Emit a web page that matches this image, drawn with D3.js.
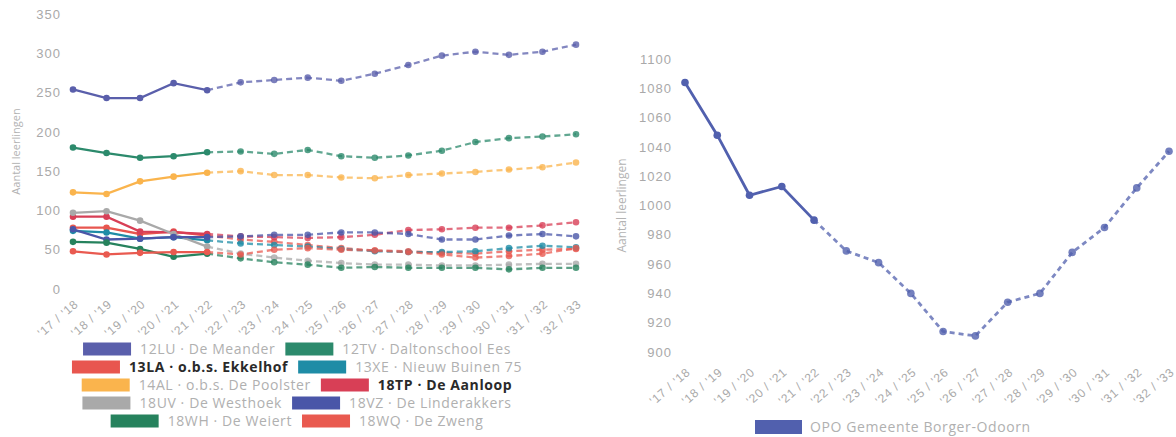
<!DOCTYPE html>
<html>
<head>
<meta charset="utf-8">
<script src="https://cdn.jsdelivr.net/npm/d3@7"></script>
<style>
  html, body { margin: 0; padding: 0; background: #fff; }
  svg { display: block; font-family: "Open Sans", "Noto Sans", sans-serif; }
  .tick text { fill: #a9a9a9; }
</style>
</head>
<body>
<svg id="chart" width="1176" height="437"></svg>
<script>
// School years on the x axis
const years = ["'17 / '18", "'18 / '19", "'19 / '20", "'20 / '21", "'21 / '22", "'22 / '23", "'23 / '24", "'24 / '25",
               "'25 / '26", "'26 / '27", "'27 / '28", "'28 / '29", "'29 / '30", "'30 / '31", "'31 / '32", "'32 / '33"];
// Index of the last counted year; later years are a forecast (dashed)
const lastActual = 4;

// Pupil counts per school
const s12LU = [254, 243, 243, 262, 253, 263, 266, 269, 265, 274, 285, 297, 302, 298, 302, 311];
const s12TV = [180, 173, 167, 169, 174, 175, 172, 177, 169, 167, 170, 176, 187, 192, 194, 197];
const s13LA = [78, 78, 70, 73, 68, 63, 60, 56, 52, 49, 48, 46, 45, 48, 50, 51];
const s13XE = [74, 72, 64, 66, 62, 58, 56, 54, 51, 48, 47, 47, 48, 52, 55, 53];
const s14AL = [123, 121, 137, 143, 148, 150, 145, 145, 142, 141, 145, 147, 149, 152, 155, 161];
const s18TP = [92, 92, 73, 72, 70, 67, 66, 65, 66, 69, 75, 76, 78, 78, 81, 85];
const s18UV = [97, 99, 87, 70, 54, 45, 40, 36, 33, 31, 31, 30, 30, 31, 32, 32];
const s18VZ = [76, 63, 64, 66, 66, 67, 69, 69, 72, 72, 70, 63, 63, 68, 70, 67];
const s18WH = [60, 59, 51, 41, 45, 39, 34, 31, 27, 28, 27, 27, 27, 25, 27, 27];
const s18WQ = [48, 44, 46, 47, 47, 44, 50, 52, 50, 49, 47, 44, 40, 42, 45, 52];

// Total for the municipality
const opoTotal = [1084, 1048, 1007, 1013, 990, 969, 961, 940, 914, 911, 934, 940, 968, 985, 1012, 1037];

const schoolNames = ["12LU · De Meander", "12TV · Daltonschool Ees", "13LA · o.b.s. Ekkelhof", "13XE · Nieuw Buinen 75",
                     "14AL · o.b.s. De Poolster", "18TP · De Aanloop", "18UV · De Westhoek", "18VZ · De Linderakkers",
                     "18WH · De Weiert", "18WQ · De Zweng"];
const schoolValues = [s12LU, s12TV, s13LA, s13XE, s14AL, s18TP, s18UV, s18VZ, s18WH, s18WQ];
const schoolColors = ["#5a5fab", "#2c8a6c", "#e8564f", "#1e8ca6", "#fab44d", "#d83f56", "#a9a9a9", "#4a56a8", "#26825d", "#e95a50"];
const highlighted = ["13LA · o.b.s. Ekkelhof", "18TP · De Aanloop"];

const leftTicks = [0, 50, 100, 150, 200, 250, 300, 350];
const rightTicks = [900, 920, 940, 960, 980, 1000, 1020, 1040, 1060, 1080, 1100];
const opoName = "OPO Gemeente Borger-Odoorn";
const opoColor = "#5160ae";

const svg = d3.select("#chart");

function drawPanel(g, cfg) {
  const x = d3.scalePoint().domain(years).range(cfg.xRange);
  const y = d3.scaleLinear().domain(cfg.yDomain).range(cfg.yRange);

  // y axis
  const ya = g.append("g").attr("transform", `translate(${cfg.yAxisX},0)`)
    .call(d3.axisLeft(y).tickValues(cfg.ticks).tickFormat(d3.format("d")).tickSize(0).tickPadding(0));
  ya.select(".domain").remove();
  ya.selectAll("text").style("font-size", "13px").style("letter-spacing", "1px");

  // x axis with slanted labels
  const xa = g.append("g").attr("transform", `translate(0,${cfg.xAxisY})`)
    .call(d3.axisBottom(x).tickSize(0).tickPadding(0));
  xa.select(".domain").remove();
  xa.selectAll("text")
    .style("font-size", "12px")
    .style("letter-spacing", "0.9px")
    .attr("text-anchor", "end")
    .attr("dy", "0.35em")
    .attr("y", 0)
    .attr("transform", `translate(3,4) rotate(-41)`);

  // axis title
  g.append("text")
    .attr("transform", `translate(${cfg.titleX},${(cfg.yRange[0] + cfg.yRange[1]) / 2}) rotate(-90)`)
    .attr("text-anchor", "middle")
    .attr("dy", "0.35em")
    .style("font-size", cfg.titleFont)
    .style("fill", "#b3b3b3")
    .text("Aantal leerlingen");

  const line = d3.line().x(d => x(years[d.i])).y(d => y(d.v));

  cfg.series.forEach(s => {
    const pts = s.values.map((v, i) => ({ i, v }));
    const actual = pts.slice(0, lastActual + 1);
    const forecast = pts.slice(lastActual);
    const sg = g.append("g");
    sg.append("path").datum(forecast).attr("d", line)
      .attr("fill", "none").attr("stroke", s.color).attr("stroke-opacity", 0.75)
      .attr("stroke-width", cfg.lw).attr("stroke-dasharray", cfg.dash);
    sg.append("path").datum(actual).attr("d", line)
      .attr("fill", "none").attr("stroke", s.color).attr("stroke-width", cfg.lw);
    sg.selectAll("circle").data(pts).join("circle")
      .attr("cx", d => x(years[d.i])).attr("cy", d => y(d.v))
      .attr("r", cfg.r).attr("fill", s.color)
      .attr("fill-opacity", d => d.i > lastActual ? 0.8 : 1);
  });
}

// Left panel: individual schools
const leftSeries = schoolNames.map((n, k) => ({ name: n, values: schoolValues[k], color: schoolColors[k] }));
drawPanel(svg.append("g"), {
  xRange: [73, 576], yDomain: [0, 350], yRange: [289, 14],
  ticks: leftTicks, yAxisX: 61, xAxisY: 298,
  titleX: 16, titleFont: "11px",
  series: leftSeries, lw: 2.3, r: 3.3, dash: "6,4"
});

// Left legend: two entries per row, each row centred
const legendRows = d3.range(0, schoolNames.length, 2).map(k => [k, k + 1]);
const legendG = svg.append("g");
const swW = 48, swH = 13, gapSwText = 9, gapItems = 10;
legendRows.forEach((row, r) => {
  const yRow = 349 + r * 18;
  const rg = legendG.append("g");
  let cx = 0;
  row.forEach(k => {
    const name = schoolNames[k];
    const bold = highlighted.includes(name);
    rg.append("rect").attr("x", cx).attr("y", yRow - swH / 2).attr("width", swW).attr("height", swH)
      .attr("fill", schoolColors[k]);
    const t = rg.append("text").attr("x", cx + swW + gapSwText).attr("y", yRow).attr("dy", "0.35em")
      .style("font-size", "14px")
      .style("letter-spacing", "0.6px")
      .style("font-weight", bold ? "700" : "400")
      .style("fill", bold ? "#2a2a2a" : "#b0b0b0")
      .text(name);
    cx += swW + gapSwText + t.node().getComputedTextLength() + gapItems;
  });
  const w = cx - gapItems;
  rg.attr("transform", `translate(${297 - w / 2},0)`);
});

// Right panel: municipality total
drawPanel(svg.append("g"), {
  xRange: [685, 1169], yDomain: [900, 1100], yRange: [352, 59],
  ticks: rightTicks, yAxisX: 672, xAxisY: 366,
  titleX: 622, titleFont: "12px",
  series: [{ name: opoName, values: opoTotal, color: opoColor }], lw: 2.8, r: 3.8, dash: "5,4"
});

// Right legend
const rl = svg.append("g");
rl.append("rect").attr("x", 755).attr("y", 420).attr("width", 47).attr("height", 14).attr("fill", opoColor);
rl.append("text").attr("x", 810).attr("y", 427).attr("dy", "0.35em")
  .style("font-size", "14px").style("letter-spacing", "0.6px").style("fill", "#b0b0b0").text(opoName);
</script>
</body>
</html>
